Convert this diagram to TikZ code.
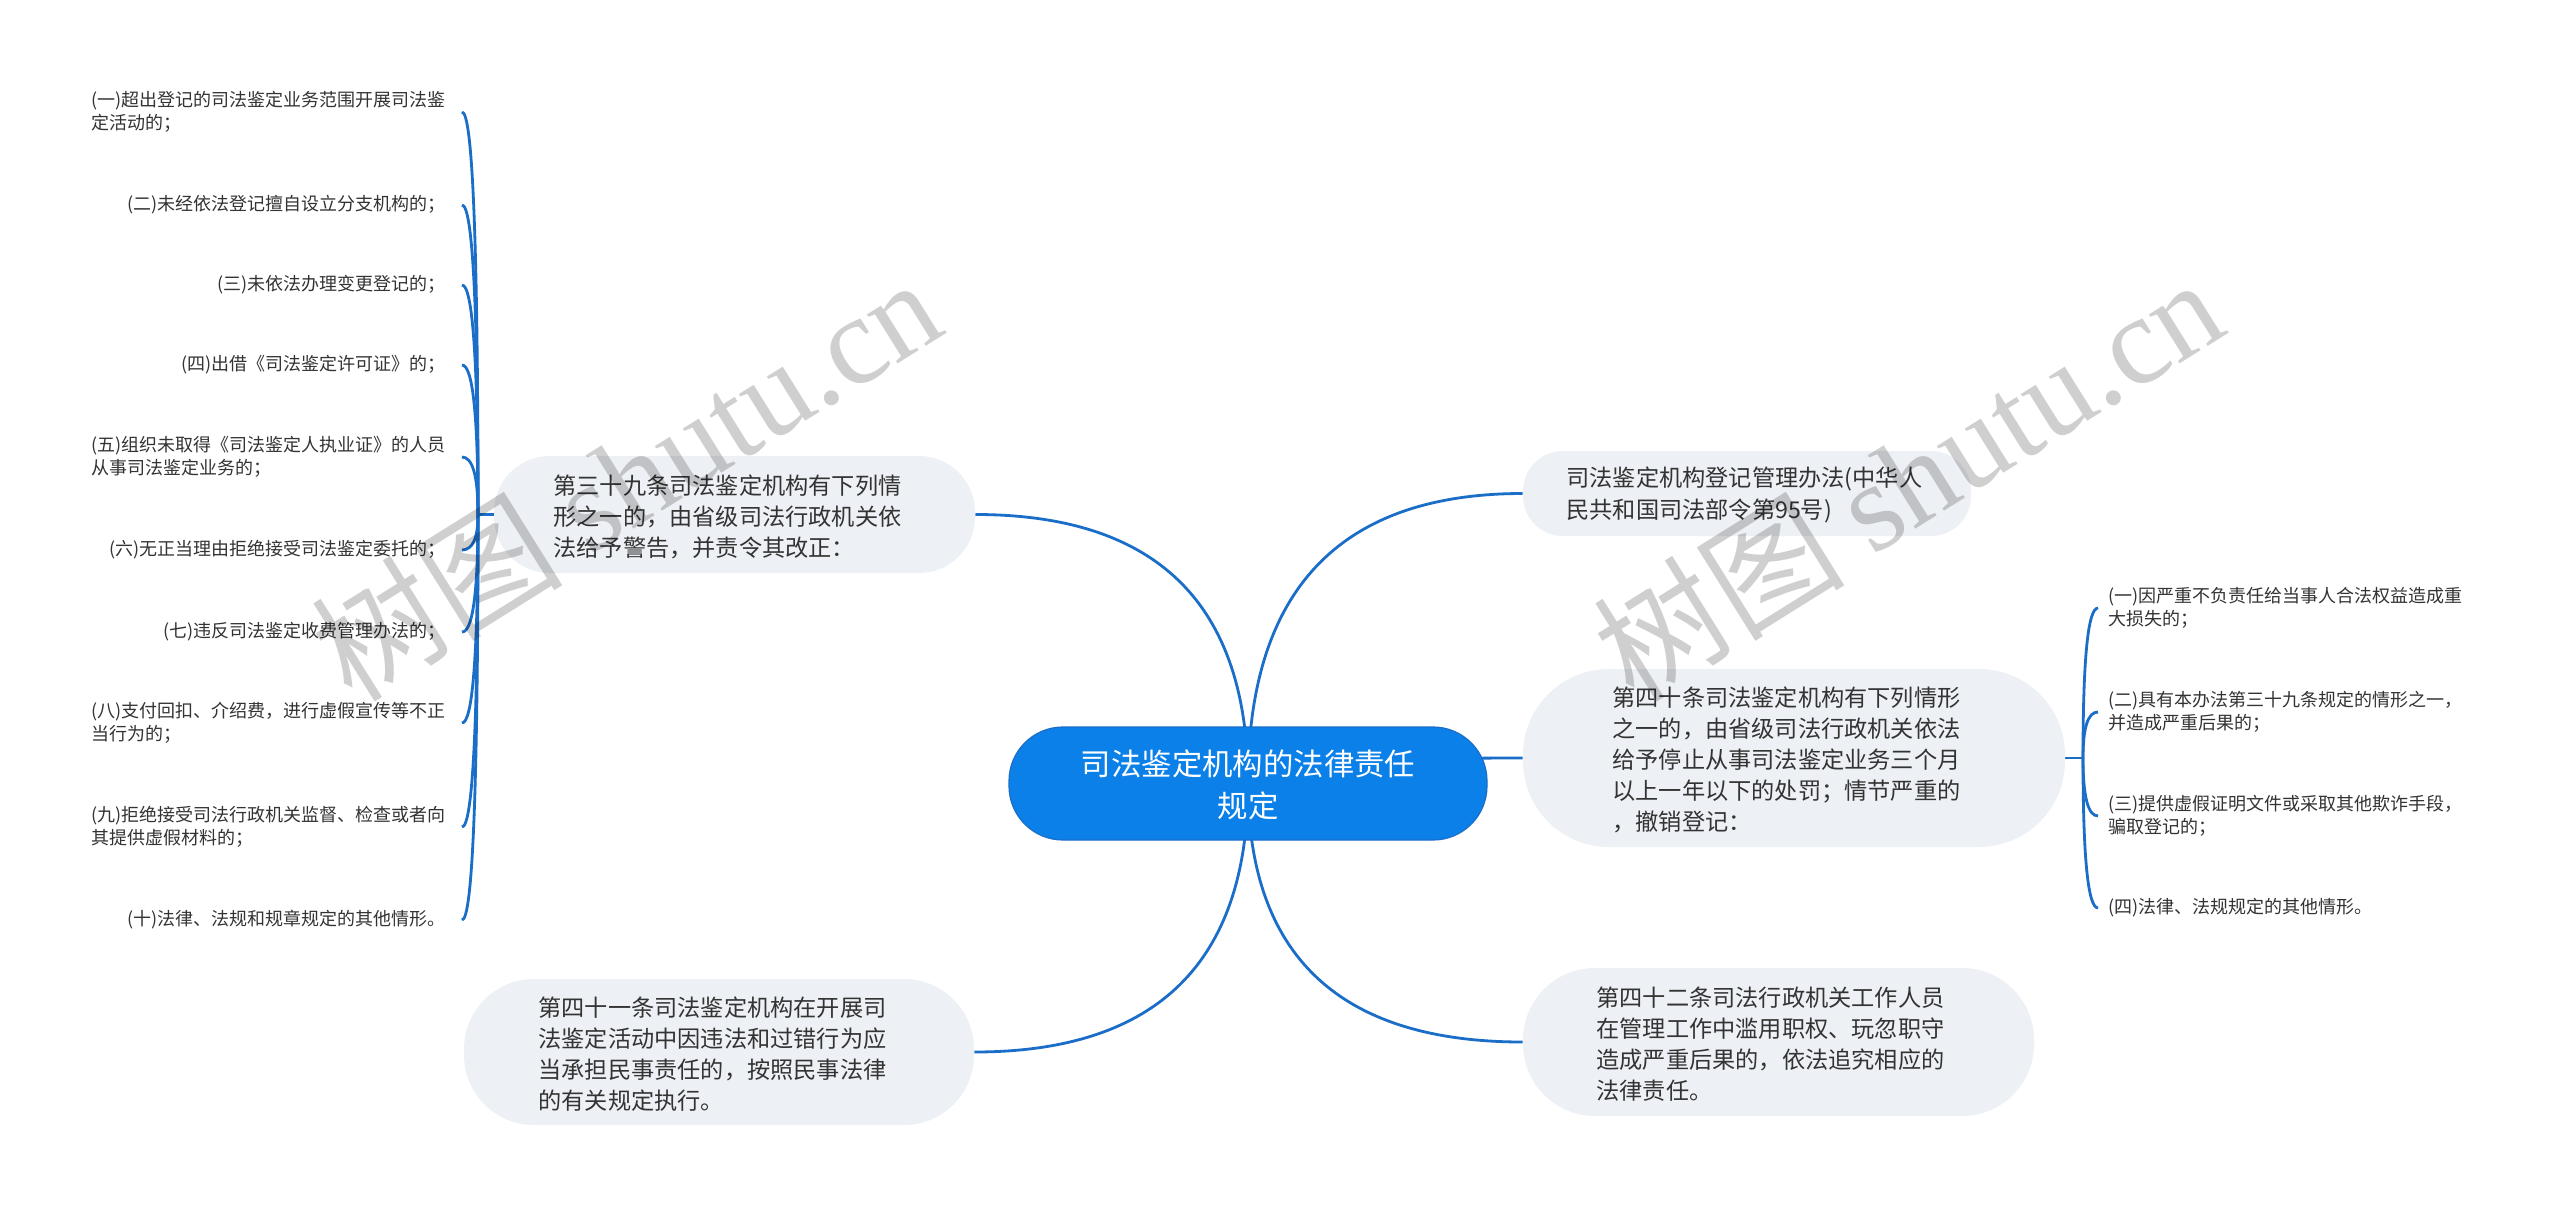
\documentclass[tikz,border=0pt]{standalone}
\usepackage{fontspec}
\setmainfont{Noto Sans CJK SC}
\newfontfamily\wmlatin{Liberation Serif}
\usetikzlibrary{calc,backgrounds}
\definecolor{linkblue}{HTML}{1A6EC8}
\definecolor{boxgray}{HTML}{EDF0F4}
\definecolor{rootblue}{HTML}{0B80E8}
\definecolor{rootedge}{HTML}{1A6EC8}
\definecolor{txt}{HTML}{333333}
\newcommand{\qlink}[2]{\draw[link] (#1) .. controls ($(#1)!0.6667!(#1 |- #2)$) and ($(#2)!0.6667!(#1 |- #2)$) .. (#2);}
\begin{document}
\begin{tikzpicture}[x=0.5pt,y=-0.5pt,
  link/.style={draw=linkblue,line width=1.4pt},
  pill/.style={fill=boxgray,draw=none,inner sep=0pt},
  btext/.style={text=txt,align=left,inner sep=0pt,anchor=west,font=\fontsize{11.6}{15.6}\selectfont},
  leafl/.style={text=txt,align=left,inner sep=0pt,anchor=east,font=\fontsize{9}{11.75}\selectfont},
  leafr/.style={text=txt,align=left,inner sep=0pt,anchor=west,font=\fontsize{9}{11.75}\selectfont},
  wm/.style={text=black,opacity=0.19,rotate=32,anchor=base west,inner sep=0pt,font=\fontsize{63}{63}\selectfont}
]
\useasboundingbox (0,0) rectangle (2560,1205);

% boxes
\node[pill,minimum width=239pt,minimum height=56.5pt,rounded corners=27pt,fill=rootblue,draw=rootedge,line width=0.6pt] (c) at (1248,783.5) {};
\node[text=white,align=center,inner sep=0pt,font=\fontsize{15.2}{21}\selectfont] (ct) at (1248,785) {司法鉴定机构的法律责任\\规定};

\node[pill,minimum width=240.5pt,minimum height=58.5pt,rounded corners=28pt] (b39) at (734.5,514.5) {};
\node[btext] (t39) at (553,517) {第三十九条司法鉴定机构有下列情\\形之一的，由省级司法行政机关依\\法给予警告，并责令其改正：};

\node[pill,minimum width=224pt,minimum height=42.5pt,rounded corners=20pt] (brt) at (1747,493.5) {};
\node[btext] (trt) at (1566,495) {司法鉴定机构登记管理办法(中华人\\民共和国司法部令第95号)};

\node[pill,minimum width=271pt,minimum height=89pt,rounded corners=43pt] (b40) at (1794,758) {};
\node[btext] (t40) at (1612,760) {第四十条司法鉴定机构有下列情形\\之一的，由省级司法行政机关依法\\给予停止从事司法鉴定业务三个月\\以上一年以下的处罚；情节严重的\\，撤销登记：};

\node[pill,minimum width=255pt,minimum height=73pt,rounded corners=35pt] (b41) at (719,1052) {};
\node[btext] (t41) at (538,1054) {第四十一条司法鉴定机构在开展司\\法鉴定活动中因违法和过错行为应\\当承担民事责任的，按照民事法律\\的有关规定执行。};

\node[pill,minimum width=255.5pt,minimum height=74pt,rounded corners=36pt] (b42) at (1778.5,1042) {};
\node[btext] (t42) at (1596,1044) {第四十二条司法行政机关工作人员\\在管理工作中滥用职权、玩忽职守\\造成严重后果的，依法追究相应的\\法律责任。};

% left leaves
\node[leafl] (l1) at (446,112) {(一)超出登记的司法鉴定业务范围开展司法鉴\\定活动的；};
\node[leafl] (l2) at (446,205) {(二)未经依法登记擅自设立分支机构的；};
\node[leafl] (l3) at (446,285) {(三)未依法办理变更登记的；};
\node[leafl] (l4) at (446,365) {(四)出借《司法鉴定许可证》的；};
\node[leafl] (l5) at (446,457) {(五)组织未取得《司法鉴定人执业证》的人员\\从事司法鉴定业务的；};
\node[leafl] (l6) at (446,550) {(六)无正当理由拒绝接受司法鉴定委托的；};
\node[leafl] (l7) at (446,632) {(七)违反司法鉴定收费管理办法的；};
\node[leafl] (l8) at (446,723) {(八)支付回扣、介绍费，进行虚假宣传等不正\\当行为的；};
\node[leafl] (l9) at (446,827) {(九)拒绝接受司法行政机关监督、检查或者向\\其提供虚假材料的；};
\node[leafl] (l10) at (446,920) {(十)法律、法规和规章规定的其他情形。};

% right leaves
\node[leafr] (r1) at (2108,608) {(一)因严重不负责任给当事人合法权益造成重\\大损失的；};
\node[leafr] (r2) at (2108,712) {(二)具有本办法第三十九条规定的情形之一，\\并造成严重后果的；};
\node[leafr] (r3) at (2108,816) {(三)提供虚假证明文件或采取其他欺诈手段，\\骗取登记的；};
\node[leafr] (r4) at (2108,908) {(四)法律、法规规定的其他情形。};

\coordinate (k39) at (478,514.5);
\coordinate (k40) at (2083,758);
\foreach \i in {1,...,10} {\coordinate (e\i) at ([xshift=8pt]l\i.east);}
\foreach \i in {1,...,4} {\coordinate (f\i) at ([xshift=-5pt]r\i.west);}

\begin{pgfonlayer}{background}
  \fill[white] (0,0) rectangle (2560,1205);
  \qlink{c.center}{b39.east}
  \qlink{c.center}{brt.west}
  \qlink{c.center}{b40.west}
  \qlink{c.center}{b41.east}
  \qlink{c.center}{b42.west}
  \draw[link] (b39.west) -- (k39);
  \draw[link] (b40.east) -- (k40);
  \foreach \i in {1,...,10} {\qlink{k39}{e\i}}
  \foreach \i in {1,...,4} {\qlink{k40}{f\i}}
\end{pgfonlayer}

% watermarks
\node[wm] (wm1) at (352,705) {树图 {\wmlatin shutu.cn}};
\node[wm] (wm2) at (1634,705) {树图 {\wmlatin shutu.cn}};
\end{tikzpicture}
\end{document}
